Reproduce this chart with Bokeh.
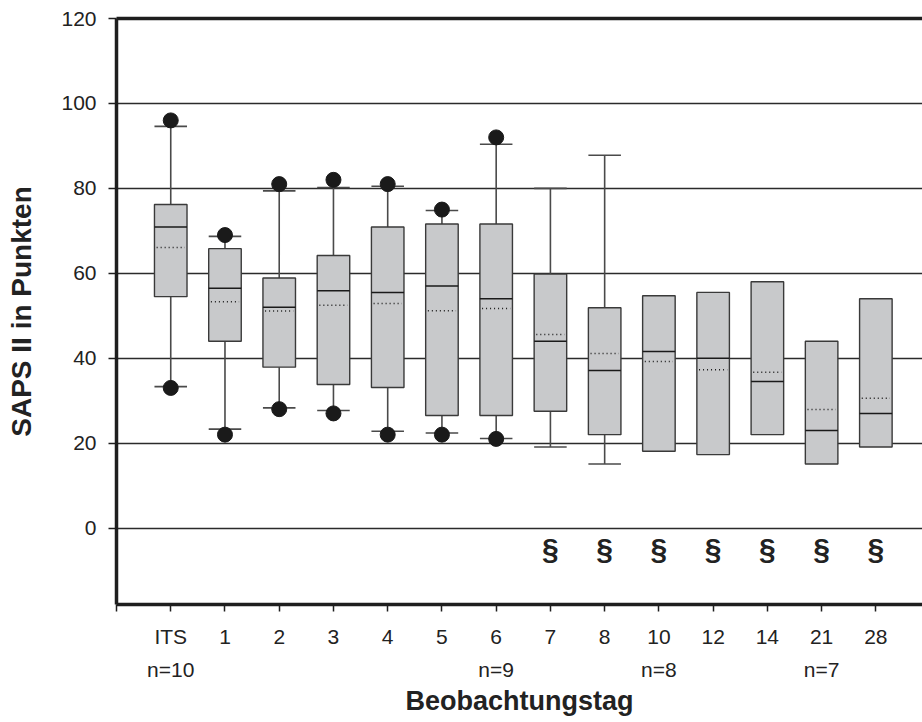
from bokeh.plotting import figure
from bokeh.models import FixedTicker, LinearAxis, Range1d
from bokeh.core.properties import value
from bokeh.embed import file_html
from bokeh.resources import INLINE

# SAPS II score per observation day
days = ["ITS", "1", "2", "3", "4", "5", "6", "7", "8", "10", "12", "14", "21", "28"]
q3 = [76.2, 65.8, 58.9, 64.2, 70.9, 71.6, 71.6, 59.8, 51.9, 54.7, 55.5, 58.0, 44.0, 54.0]
median = [70.9, 56.5, 52.0, 55.9, 55.5, 57.0, 54.0, 44.0, 37.1, 41.6, 40.0, 34.5, 23.0, 27.0]
mean = [66.1, 53.3, 51.1, 52.5, 52.9, 51.2, 51.7, 45.6, 41.1, 39.2, 37.3, 36.7, 27.9, 30.6]
q1 = [54.5, 44.0, 37.9, 33.8, 33.1, 26.5, 26.5, 27.5, 22.0, 18.1, 17.3, 22.0, 15.1, 19.1]
whisker_hi = [94.6, 68.7, 79.4, 80.2, 80.5, 74.8, 90.4, 80.0, 87.8, None, None, None, None, None]
whisker_lo = [33.3, 23.3, 28.3, 27.7, 22.8, 22.4, 21.1, 19.1, 15.1, None, None, None, None, None]
outlier_hi = [96, 69, 81, 82, 81, 75, 92, None, None, None, None, None, None, None]
outlier_lo = [33, 22, 28, 27, 22, 22, 21, None, None, None, None, None, None, None]

n_days = ["ITS", "6", "10", "21"]
n_texts = ["n=10", "n=9", "n=8", "n=7"]
sig_days = ["7", "8", "10", "12", "14", "21", "28"]

FONT = "Liberation Sans"
INK = "#1e1e1e"
TXT = "#222222"
pos = {d: i + 1 for i, d in enumerate(days)}
xs = [pos[d] for d in days]
half = 0.3

p = figure(width=922, height=722, x_range=Range1d(0, 14.86), y_range=Range1d(-18, 120),
           output_backend="svg", toolbar_location=None,
           min_border_left=116, min_border_right=0, min_border_top=18, min_border_bottom=118)
p.outline_line_color = None
p.background_fill_color = "white"
p.border_fill_color = "white"

# grid
p.xgrid.visible = False
p.ygrid.ticker = FixedTicker(ticks=[0, 20, 40, 60, 80, 100])
p.ygrid.grid_line_color = "#2b2b2b"
p.ygrid.grid_line_width = 1.5

# x axis: day labels
xa = p.xaxis[0]
xa.ticker = FixedTicker(ticks=list(range(0, len(days) + 1)))
overrides = {0: ""}
overrides.update({pos[d]: d for d in days})
xa.major_label_overrides = overrides
xa.axis_line_width = 3.5
xa.axis_line_color = INK
xa.major_tick_in = 0
xa.major_tick_out = 7
xa.major_tick_line_width = 1.5
xa.major_tick_line_color = INK
xa.minor_tick_line_color = None
xa.major_label_standoff = 13
xa.major_label_text_font = FONT
xa.major_label_text_font_size = "21px"
xa.major_label_text_color = TXT

# second row below: group sizes and the axis title
na = LinearAxis(ticker=FixedTicker(ticks=[pos[d] for d in n_days]),
                major_label_overrides={pos[d]: t for d, t in zip(n_days, n_texts)},
                axis_line_color=None, major_tick_line_color=None, minor_tick_line_color=None,
                major_tick_in=0, major_tick_out=0, major_label_standoff=7,
                major_label_text_font=FONT, major_label_text_font_size="21px",
                major_label_text_color=TXT,
                axis_label="Beobachtungstag", axis_label_text_font=FONT,
                axis_label_text_font_style="bold", axis_label_text_font_size="27px",
                axis_label_text_color=TXT, axis_label_standoff=2)
p.add_layout(na, "below")

# y axis
ya = p.yaxis[0]
ya.ticker = FixedTicker(ticks=[0, 20, 40, 60, 80, 100, 120])
ya.axis_line_width = 3.5
ya.axis_line_color = INK
ya.major_tick_in = 0
ya.major_tick_out = 8
ya.major_tick_line_width = 1.5
ya.major_tick_line_color = INK
ya.minor_tick_line_color = None
ya.major_label_standoff = 12
ya.major_label_text_font = FONT
ya.major_label_text_font_size = "21px"
ya.major_label_text_color = TXT
ya.axis_label = "SAPS II in Punkten"
ya.axis_label_text_font = FONT
ya.axis_label_text_font_style = "bold"
ya.axis_label_text_font_size = "28px"
ya.axis_label_text_color = TXT
ya.axis_label_standoff = 21

# top border line
top = LinearAxis(ticker=FixedTicker(ticks=[]), axis_line_width=3.5, axis_line_color=INK,
                 major_tick_line_color=None, minor_tick_line_color=None,
                 major_label_text_font_size="0px")
p.add_layout(top, "above")

# whiskers and caps
wx_hi = [x for x, w in zip(xs, whisker_hi) if w is not None]
wy_hi = [w for w in whisker_hi if w is not None]
wq3 = [q for q, w in zip(q3, whisker_hi) if w is not None]
wx_lo = [x for x, w in zip(xs, whisker_lo) if w is not None]
wy_lo = [w for w in whisker_lo if w is not None]
wq1 = [q for q, w in zip(q1, whisker_lo) if w is not None]
WCOL = "#4a4a4a"
p.segment(x0=wx_hi, x1=wx_hi, y0=wq3, y1=wy_hi, line_color=WCOL, line_width=1.6)
p.segment(x0=wx_lo, x1=wx_lo, y0=wq1, y1=wy_lo, line_color=WCOL, line_width=1.6)
p.segment(x0=[x - half for x in wx_hi], x1=[x + half for x in wx_hi], y0=wy_hi, y1=wy_hi,
          line_color=WCOL, line_width=1.6)
p.segment(x0=[x - half for x in wx_lo], x1=[x + half for x in wx_lo], y0=wy_lo, y1=wy_lo,
          line_color=WCOL, line_width=1.6)

# boxes
p.vbar(x=xs, bottom=q1, top=q3, width=2 * half, fill_color="#c8c9cb",
       line_color="#3a3a3a", line_width=1.4)
p.segment(x0=[x - half for x in xs], x1=[x + half for x in xs], y0=median, y1=median,
          line_color="#1a1a1a", line_width=1.5)
p.segment(x0=[x - half + 0.04 for x in xs], x1=[x + half - 0.04 for x in xs], y0=mean, y1=mean,
          line_color="#1a1a1a", line_width=1.5, line_dash="1 3")

# outliers
ox = [x for x, o in zip(xs, outlier_hi) if o is not None] + [x for x, o in zip(xs, outlier_lo) if o is not None]
oy = [o for o in outlier_hi if o is not None] + [o for o in outlier_lo if o is not None]
p.scatter(x=ox, y=oy, size=15, fill_color="#1a1a1a", line_color="#1a1a1a")

# significance markers
p.text(x=[pos[d] for d in sig_days], y=[-4.7] * len(sig_days), text=["§"] * len(sig_days),
       text_font=value(FONT), text_font_style="bold", text_font_size="30px",
       text_align="center", text_baseline="middle", text_color=TXT)

open("out.html", "w").write(file_html(p, INLINE))
